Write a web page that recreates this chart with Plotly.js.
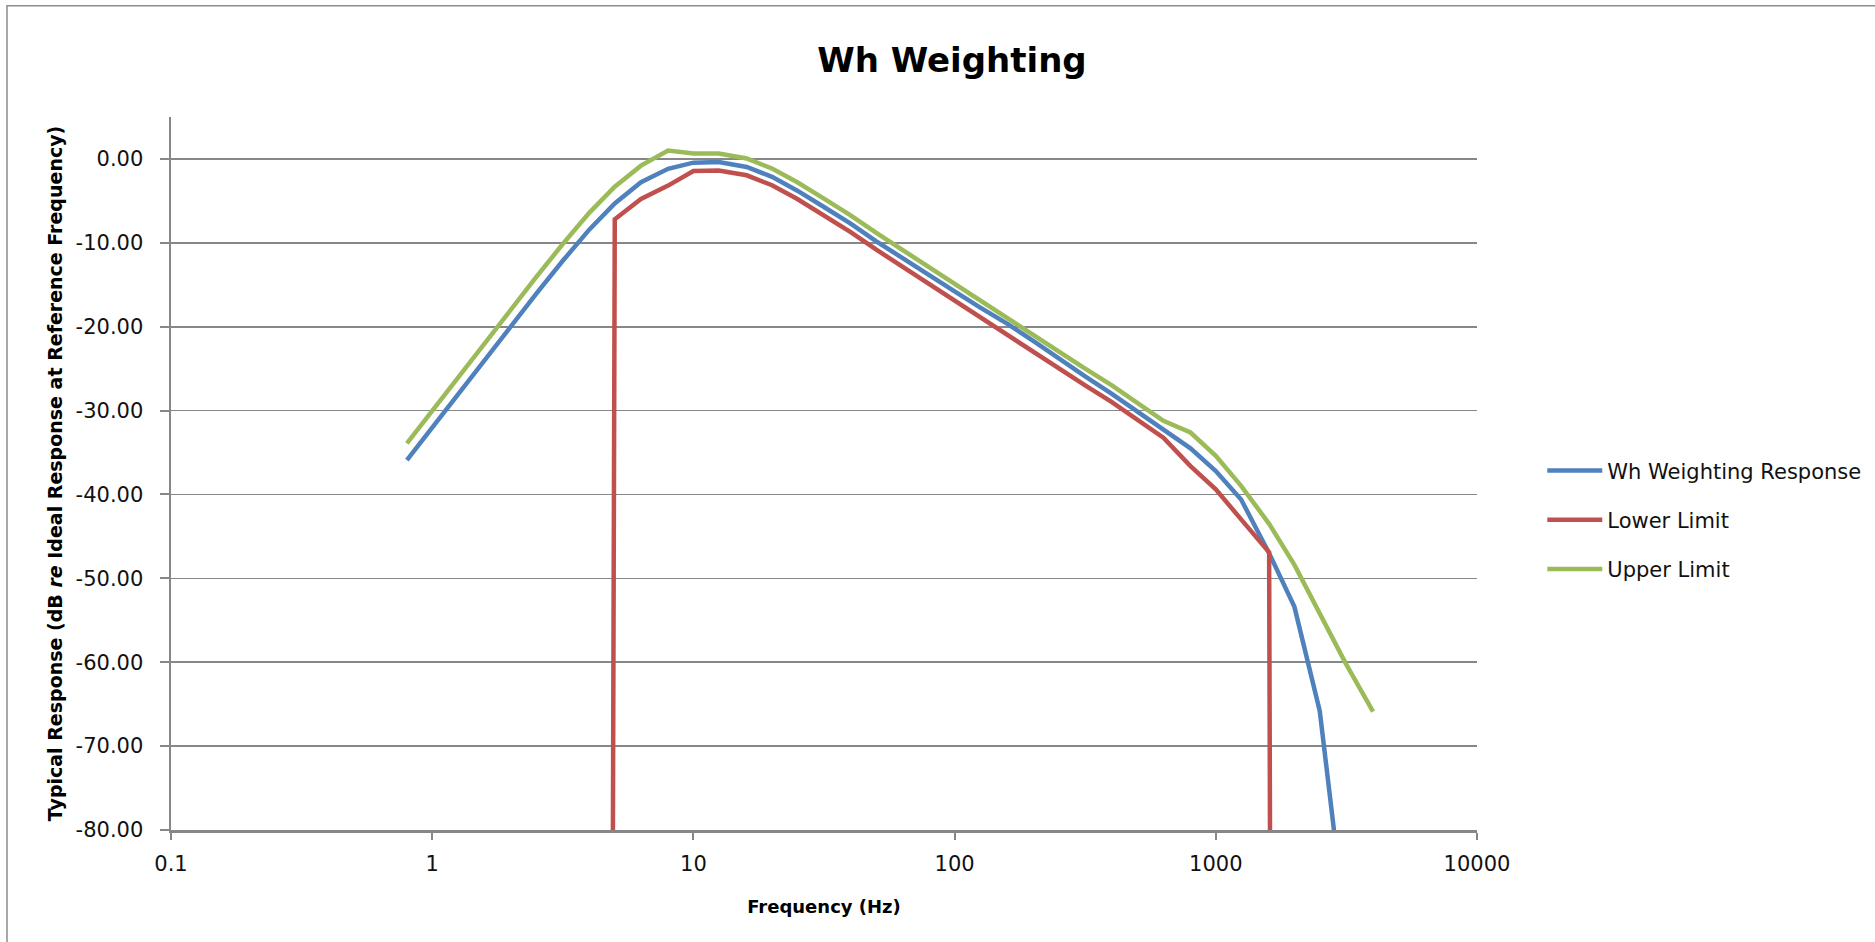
<!DOCTYPE html>
<html>
<head>
<meta charset="utf-8">
<script src="https://cdn.plot.ly/plotly-3.0.1.min.js"></script>
<style>
html,body{margin:0;padding:0;background:#fff;}
#chart{width:1875px;height:942px;}
</style>
</head>
<body>
<div id="chart"></div>
<script>
// Frequencies (Hz) and responses (dB)
const freqResponse = [0.8,1,1.25,1.6,2,2.5,3.15,4,5,6.3,8,10,12.5,16,20,25,31.5,40,50,63,80,100,125,160,200,250,315,400,500,630,800,1000,1250,1600,2000,2500,3150];
const whResponse = [-35.9,-32.0,-28.1,-23.8,-20.0,-16.1,-12.2,-8.4,-5.3,-2.77,-1.18,-0.44,-0.37,-0.95,-2.14,-3.78,-5.70,-7.72,-9.79,-11.84,-13.89,-15.8,-17.7,-19.7,-21.7,-23.8,-25.9,-28.0,-30.06,-32.22,-34.5,-37.2,-40.6,-47.0,-53.4,-65.8,-92.0];

const freqLower = [4,5,6.3,8,10,12.5,16,20,25,31.5,40,50,63,80,100,125,160,200,250,315,400,500,630,800,1000,1250,1600,2000];
const lowerLimit = [-1000,-7.2,-4.77,-3.18,-1.44,-1.37,-1.95,-3.14,-4.78,-6.70,-8.72,-10.79,-12.84,-14.89,-16.92,-18.92,-21.0,-22.95,-24.96,-26.97,-29.0,-31.06,-33.22,-36.61,-39.39,-42.97,-46.9,-1000];

const freqUpper = [0.8,1,1.25,1.6,2,2.5,3.15,4,5,6.3,8,10,12.5,16,20,25,31.5,40,50,63,80,100,125,160,200,250,315,400,500,630,800,1000,1250,1600,2000,2500,3150,4000];
const upperLimit = [-33.9,-30.0,-26.1,-21.8,-18.0,-14.1,-10.2,-6.4,-3.3,-0.8,1.0,0.65,0.65,0.05,-1.14,-2.78,-4.7,-6.72,-8.79,-10.84,-12.89,-14.92,-16.92,-19.0,-20.95,-22.96,-24.97,-27.0,-29.06,-31.22,-32.61,-35.39,-38.97,-43.5,-48.4,-54.1,-60.2,-65.9];

const seriesNames = ['Wh Weighting Response','Lower Limit','Upper Limit'];
const seriesColors = ['#4F81BD','#C0504D','#9BBB59'];

const xTickVals = [0.1,1,10,100,1000,10000];
const xTickText = ['0.1','1','10','100','1000','10000'];
const yTickVals = [0,-10,-20,-30,-40,-50,-60,-70,-80];
const yTickText = ['0.00','-10.00','-20.00','-30.00','-40.00','-50.00','-60.00','-70.00','-80.00'];

const xs = [freqResponse, freqLower, freqUpper];
const ys = [whResponse, lowerLimit, upperLimit];

const traces = seriesNames.map((n,i)=>({
  x: xs[i], y: ys[i], name: n, type:'scatter', mode:'lines',
  legendgroup: 'g'+i,
  line:{color: seriesColors[i], width:4.5}
}));

const tickFont = {family:'DejaVu Sans', size:21, color:'#111'};
const grey = '#878787';

const layout = {
  width:1875, height:942,
  margin:{l:171, r:398, t:117, b:112, pad:0, autoexpand:false},
  paper_bgcolor:'#fff', plot_bgcolor:'#fff',
  showlegend:true,
  title:{text:'Wh Weighting', font:{family:'DejaVu Sans', size:34, weight:'bold', color:'#000'},
         x:0.5077, xanchor:'center', xref:'container', y:1-60/942, yanchor:'middle', yref:'container'},
  xaxis:{type:'log', range:[-1,4], tickvals:xTickVals, ticktext:xTickText,
         showgrid:false, zeroline:false, showline:true, linecolor:grey, linewidth:2.5,
         ticks:'outside', ticklen:7, tickwidth:2, tickcolor:grey,
         tickfont:tickFont, ticklabelstandoff:6,
         title:{text:'Frequency (Hz)', font:{family:'DejaVu Sans', size:18, weight:'bold', color:'#000'}, standoff:26}},
  yaxis:{range:[-80,5], tickvals:yTickVals, ticktext:yTickText,
         showgrid:true, gridcolor:grey, gridwidth:1.6, zeroline:false,
         showline:true, linecolor:grey, linewidth:2.5,
         ticks:'outside', ticklen:9, tickwidth:2, tickcolor:grey,
         tickfont:tickFont, ticklabelstandoff:12,
         title:{text:'Typical Response (dB <i>re</i> Ideal Response at Reference Frequency)', font:{family:'DejaVu Sans', size:19, weight:'bold', color:'#000'}, standoff:8}},
  legend:{x:1.05, xanchor:'left', y:0.435, yanchor:'middle',
          font:{family:'DejaVu Sans', size:21, color:'#111'},
          traceorder:'grouped', tracegroupgap:19, itemwidth:55, bgcolor:'rgba(0,0,0,0)'},
  shapes:[{type:'rect', xref:'paper', yref:'paper', x0:(7-171)/1306, x1:1.6, y0:-0.5, y1:(830-6)/712.7,
           line:{color:'#8c8c8c', width:1.5}, fillcolor:'rgba(0,0,0,0)', layer:'below'}]
};

Plotly.newPlot('chart', traces, layout, {staticPlot:true, displayModeBar:false});
</script>
</body>
</html>
